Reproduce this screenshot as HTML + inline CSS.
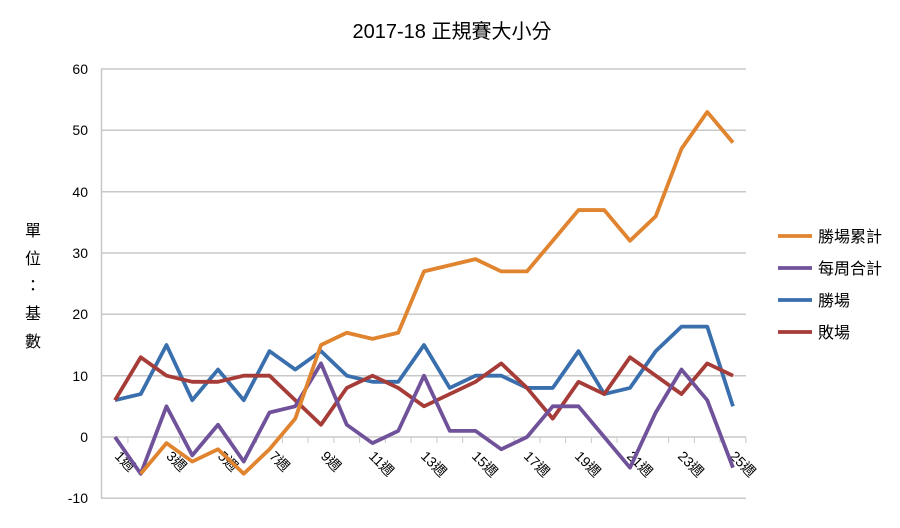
<!DOCTYPE html>
<html><head><meta charset="utf-8"><style>
html,body{margin:0;padding:0;background:#fff}
svg{display:block;font-family:"Liberation Sans","Noto Sans CJK TC",sans-serif}
</style></head><body>
<svg width="900" height="528" viewBox="0 0 900 528">
<text x="452" y="38" text-anchor="middle" font-size="20" fill="#000">2017-18 正規賽大小分</text>
<g stroke="#c8c8c8" stroke-width="1.5">
<line x1="101" y1="69" x2="746" y2="69"/><line x1="101" y1="130.3" x2="746" y2="130.3"/>
<line x1="101" y1="191.7" x2="746" y2="191.7"/><line x1="101" y1="253" x2="746" y2="253"/>
<line x1="101" y1="314.3" x2="746" y2="314.3"/><line x1="101" y1="375.7" x2="746" y2="375.7"/>
<line x1="101" y1="437" x2="746" y2="437"/><line x1="101" y1="498.3" x2="746" y2="498.3"/>
<line x1="101.5" y1="69" x2="101.5" y2="498.3"/>
</g>
<g stroke="#c8c8c8" stroke-width="1">
<line x1="127.9" y1="437" x2="127.9" y2="443"/><line x1="153.6" y1="437" x2="153.6" y2="443"/><line x1="179.4" y1="437" x2="179.4" y2="443"/><line x1="205.1" y1="437" x2="205.1" y2="443"/><line x1="230.9" y1="437" x2="230.9" y2="443"/><line x1="256.6" y1="437" x2="256.6" y2="443"/><line x1="282.4" y1="437" x2="282.4" y2="443"/><line x1="308.1" y1="437" x2="308.1" y2="443"/><line x1="333.9" y1="437" x2="333.9" y2="443"/><line x1="359.6" y1="437" x2="359.6" y2="443"/><line x1="385.4" y1="437" x2="385.4" y2="443"/><line x1="411.1" y1="437" x2="411.1" y2="443"/><line x1="436.9" y1="437" x2="436.9" y2="443"/><line x1="462.6" y1="437" x2="462.6" y2="443"/><line x1="488.4" y1="437" x2="488.4" y2="443"/><line x1="514.1" y1="437" x2="514.1" y2="443"/><line x1="539.9" y1="437" x2="539.9" y2="443"/><line x1="565.6" y1="437" x2="565.6" y2="443"/><line x1="591.4" y1="437" x2="591.4" y2="443"/><line x1="617.1" y1="437" x2="617.1" y2="443"/><line x1="642.9" y1="437" x2="642.9" y2="443"/><line x1="668.6" y1="437" x2="668.6" y2="443"/><line x1="694.4" y1="437" x2="694.4" y2="443"/><line x1="720.1" y1="437" x2="720.1" y2="443"/><line x1="745.9" y1="437" x2="745.9" y2="443"/>
</g>
<g font-size="14" fill="#000" text-anchor="end">
<text x="88" y="74">60</text><text x="88" y="135">50</text><text x="88" y="197">40</text>
<text x="88" y="258">30</text><text x="88" y="319">20</text><text x="88" y="381">10</text>
<text x="88" y="442">0</text><text x="88" y="503">-10</text>
</g>
<g font-size="14" fill="#000">
<text transform="translate(114,457) rotate(45)">1週</text>
<text transform="translate(165.5,457) rotate(45)">3週</text>
<text transform="translate(217,457) rotate(45)">5週</text>
<text transform="translate(268.5,457) rotate(45)">7週</text>
<text transform="translate(320,457) rotate(45)">9週</text>
<text transform="translate(368,457) rotate(45)">11週</text>
<text transform="translate(420,457) rotate(45)">13週</text>
<text transform="translate(471,457) rotate(45)">15週</text>
<text transform="translate(523,457) rotate(45)">17週</text>
<text transform="translate(574,457) rotate(45)">19週</text>
<text transform="translate(626,457) rotate(45)">21週</text>
<text transform="translate(677,457) rotate(45)">23週</text>
<text transform="translate(729,457) rotate(45)">25週</text>
</g>
<g font-size="16" fill="#000" text-anchor="middle">
<text x="33" y="236">單</text><text x="33" y="264">位</text><text x="33" y="291">：</text>
<text x="33" y="319">基</text><text x="33" y="347">數</text>
</g>
<g transform="translate(115,437) scale(25.75,-6.133)" fill="none" stroke-width="3.8" stroke-linejoin="round">
<polyline vector-effect="non-scaling-stroke" stroke="#3a6fae" points="0,6 1,7 2,15 3,6 4,11 5,6 6,14 7,11 8,14 9,10 10,9 11,9 12,15 13,8 14,10 15,10 16,8 17,8 18,14 19,7 20,8 21,14 22,18 23,18 24,5"/>
<polyline vector-effect="non-scaling-stroke" stroke="#a63c38" points="0,6 1,13 2,10 3,9 4,9 5,10 6,10 7,6 8,2 9,8 10,10 11,8 12,5 13,7 14,9 15,12 16,8 17,3 18,9 19,7 20,13 21,10 22,7 23,12 24,10"/>
<polyline vector-effect="non-scaling-stroke" stroke="#70529a" points="0,0 1,-6 2,5 3,-3 4,2 5,-4 6,4 7,5 8,12 9,2 10,-1 11,1 12,10 13,1 14,1 15,-2 16,0 17,5 18,5 19,0 20,-5 21,4 22,11 23,6 24,-5"/>
<polyline vector-effect="non-scaling-stroke" stroke="#e0842f" points="1,-6 2,-1 3,-4 4,-2 5,-6 6,-2 7,3 8,15 9,17 10,16 11,17 12,27 13,28 14,29 15,27 16,27 17,32 18,37 19,37 20,32 21,36 22,47 23,53 24,48"/>
</g>
<g stroke-width="3.8">
<line x1="778" y1="236" x2="812" y2="236" stroke="#e0842f"/>
<line x1="778" y1="268" x2="812" y2="268" stroke="#70529a"/>
<line x1="778" y1="300" x2="812" y2="300" stroke="#3a6fae"/>
<line x1="778" y1="332" x2="812" y2="332" stroke="#a63c38"/>
</g>
<g font-size="16" fill="#000">
<text x="818" y="242">勝場累計</text><text x="818" y="274">每周合計</text>
<text x="818" y="306">勝場</text><text x="818" y="338">敗場</text>
</g>
</svg>
</body></html>
